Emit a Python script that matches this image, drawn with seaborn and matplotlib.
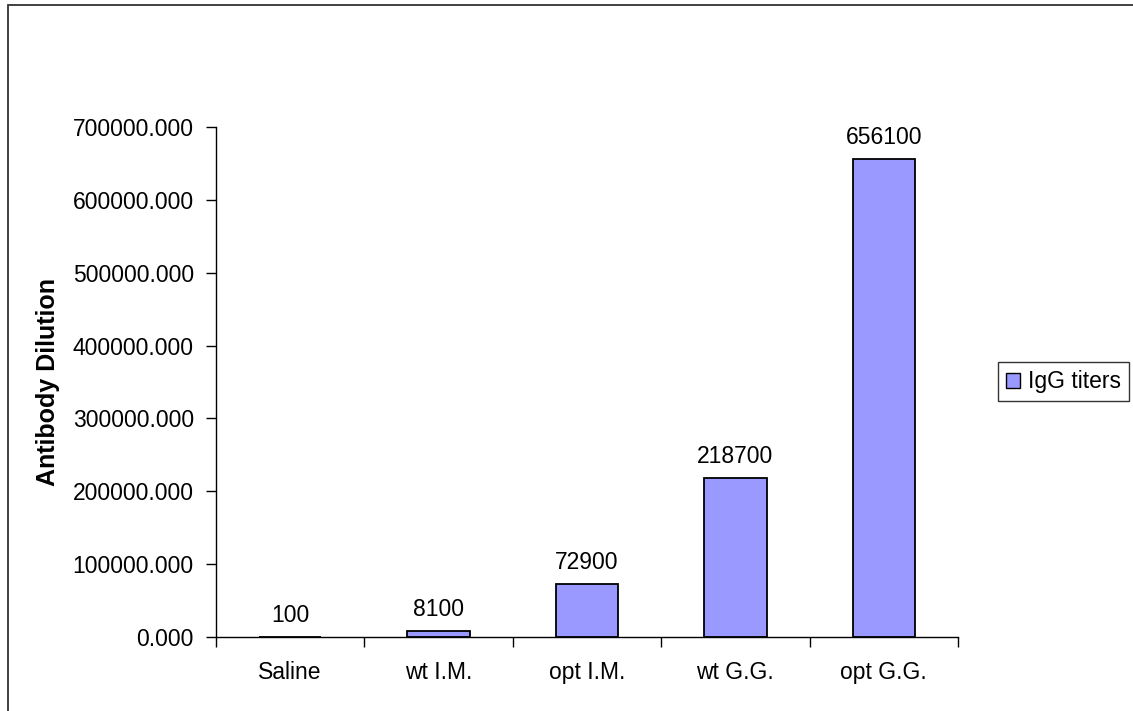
import matplotlib
matplotlib.use("Agg")
import matplotlib.pyplot as plt
from matplotlib.patches import Rectangle, Patch
import seaborn as sns
import pandas as pd

groups = ["Saline", "wt I.M.", "opt I.M.", "wt G.G.", "opt G.G."]
igg_titers = [100, 8100, 72900, 218700, 656100]
y_ticks = [0, 100000, 200000, 300000, 400000, 500000, 600000, 700000]

sns.set_theme(style="white")
plt.rcParams["font.family"] = ["Liberation Sans", "DejaVu Sans"]
plt.rcParams.update({"text.color": "black", "axes.labelcolor": "black",
                     "xtick.color": "black", "ytick.color": "black"})

df = pd.DataFrame({"group": groups, "titer": igg_titers})

fig = plt.figure(figsize=(11.33, 7.11), dpi=100)
ax = fig.add_axes([0.1906, 0.1041, 0.6549, 0.7173])

fs = 16.5
bar_color = "#9999FF"
sns.barplot(data=df, x="group", y="titer", color=bar_color, width=0.42,
            edgecolor="black", linewidth=1.3, saturation=1, ax=ax)

ax.set_xlim(-0.5, len(groups) - 0.5)
ax.set_ylim(0, 700000)
ax.set_yticks(y_ticks)
ax.set_yticklabels([f"{v:.3f}" for v in y_ticks], fontsize=fs)
ax.set_xticks(range(len(groups)))
ax.set_xticklabels(groups, fontsize=fs)
ax.tick_params(axis="x", length=0, pad=17)
ax.tick_params(axis="y", length=7, width=1, left=True, direction="out", pad=9, color="black")

# category separators along the x axis
ax.set_xticks([i - 0.5 for i in range(len(groups) + 1)], minor=True)
ax.tick_params(axis="x", which="minor", length=7, width=1, bottom=True,
               direction="out", color="black")

for side in ("top", "right"):
    ax.spines[side].set_visible(False)
for side in ("left", "bottom"):
    ax.spines[side].set_color("black")
    ax.spines[side].set_linewidth(1)

ax.set_xlabel("")
ax.set_ylabel("Antibody Dilution", fontsize=18, fontweight="bold", labelpad=9)

for i, v in enumerate(igg_titers):
    ax.annotate(f"{v}", (i, v), xytext=(0, 7), textcoords="offset points",
                ha="center", va="bottom", fontsize=fs)

handle = Patch(facecolor=bar_color, edgecolor="black", linewidth=1)
leg = fig.legend([handle], ["IgG titers"], loc="center left",
                 bbox_to_anchor=(0.881, 0.463), fontsize=fs, frameon=True,
                 fancybox=False, handlelength=0.6, handleheight=0.6,
                 handletextpad=0.35, borderpad=0.35, borderaxespad=0)
leg.get_frame().set_edgecolor("black")
leg.get_frame().set_linewidth(1)

# outer chart frame
fig.patches.append(Rectangle((0.0075, -0.1), 1.2, 1.093, transform=fig.transFigure,
                             fill=False, edgecolor="#333333", linewidth=1.3))

fig.savefig("out.png", dpi=100, facecolor="white")
